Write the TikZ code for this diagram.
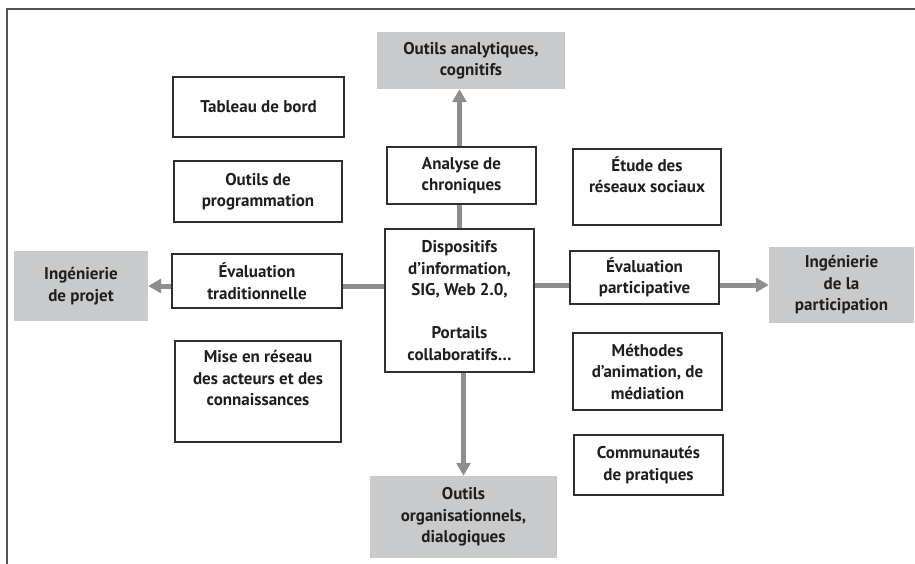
\documentclass[tikz,border=0pt]{standalone}
\usepackage{fontspec}
\setmainfont{PT Sans}
\usetikzlibrary{arrows.meta,backgrounds}
\definecolor{boxgray}{HTML}{C9CACB}
\definecolor{arrowgray}{HTML}{8E8E8E}
\definecolor{framegray}{HTML}{555555}
\definecolor{edgegray}{HTML}{2E2E2E}
\begin{document}
\begin{tikzpicture}[x=1pt,y=-1pt,
  every node/.style={font=\fontsize{17}{21.5}\selectfont\bfseries, align=center, inner sep=0pt, text=black!88},
  wbox/.style={draw=edgegray, line width=1.3pt, fill=white},
  gbox/.style={fill=boxgray},
  conn/.style={draw=arrowgray, line width=5pt},
  arr/.style={conn, -{Triangle[width=14pt,length=13pt]}},
  dim/.style n args={2}{minimum width=#1, minimum height=#2}]
\useasboundingbox (0,0) rectangle (915,564);
\draw[framegray, line width=2pt] (915,9.5) -- (7,9.5) -- (7,564);

\node[gbox, dim={188pt}{57pt}] (top) at (471,60.5) {Outils analytiques,\\cognitifs};
\node[wbox, dim={171pt}{60pt}] (tab) at (258.5,107) {Tableau de bord};
\node[wbox, dim={168pt}{61pt}] (prog) at (258,191.5) {Outils de\\programmation};
\node[wbox, dim={149pt}{57pt}] (ana) at (461.5,175.5) {Analyse de\\chroniques};
\node[wbox, dim={148pt}{76pt}, label={[anchor=north, yshift=-8pt]north:Étude des\\réseaux sociaux}] (etude) at (647,187) {};
\node[wbox, dim={149pt}{143pt}] (disp) at (459.5,300.5) {Dispositifs\\d’information,\\SIG, Web 2.0,\\[21.5pt]Portails\\collaboratifs…};
\node[gbox, dim={134pt}{70pt}] (proj) at (81,286) {Ingénierie\\de projet};
\node[wbox, dim={170pt}{54pt}] (evt) at (257,281) {Évaluation\\traditionnelle};
\node[wbox, dim={149pt}{53pt}] (evp) at (644.5,277.5) {Évaluation\\participative};
\node[gbox, dim={145pt}{76pt}] (partic) at (841.5,285) {Ingénierie\\de la\\participation};
\node[wbox, dim={166pt}{101pt}, label={[anchor=north, yshift=-10pt]north:Mise en réseau\\des acteurs et des\\connaissances}] (mise) at (258,391.5) {};
\node[wbox, dim={149pt}{77pt}] (meth) at (647.5,371.5) {Méthodes\\d’animation, de\\médiation};
\node[wbox, dim={149pt}{60pt}] (comm) at (648.5,465) {Communautés\\de pratiques};
\node[gbox, dim={187pt}{82pt}] (bot) at (463.5,517) {Outils\\organisationnels,\\dialogiques};

\begin{scope}[on background layer]
\draw[arr] (disp.north) -- (disp.north |- top.south);
\draw[arr] (bot.north |- disp.south) -- (bot.north);
\draw[arr] (disp.west |- proj.east) -- (proj.east);
\draw[arr] (disp.east |- partic.west) -- (partic.west);
\end{scope}
\end{tikzpicture}
\end{document}
